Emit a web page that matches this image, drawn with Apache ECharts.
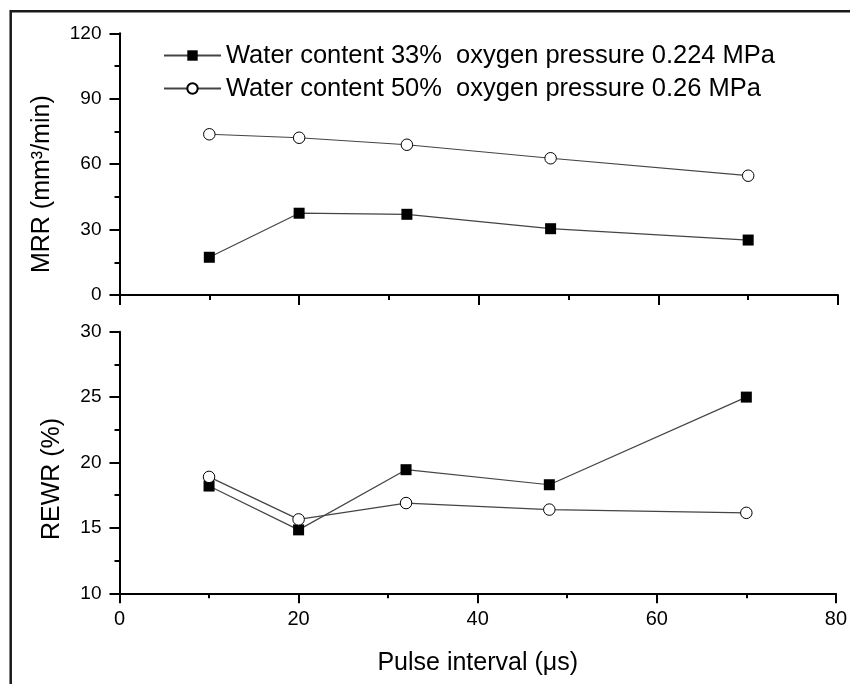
<!DOCTYPE html>
<html>
<head>
<meta charset="utf-8">
<script src="https://cdn.jsdelivr.net/npm/echarts@6/dist/echarts.min.js"></script>
<style>
  html, body { margin: 0; padding: 0; background: #fff; }
  #chart { width: 850px; height: 684px; }
</style>
</head>
<body>
<div id="chart"></div>
<script>
// Pulse interval (µs) on the shared x axis
const pulseInterval = [10, 20, 32, 48, 70];

// Material removal rate, mm³/min
const mrr33 = [17.3, 37.5, 37.0, 30.4, 25.2];
const mrr50 = [73.7, 72.1, 68.9, 62.7, 54.7];

// Relative electrode wear ratio, %
const rewr33 = [18.2, 14.85, 19.45, 18.3, 25.0];
const rewr50 = [18.9, 15.65, 16.9, 16.4, 16.15];

const seriesNames = [
  'Water content 33%  oxygen pressure 0.224 MPa',
  'Water content 50%  oxygen pressure 0.26 MPa'
];

const FONT = '"Liberation Sans", Arial, sans-serif';
const pairs = (ys) => pulseInterval.map((x, i) => [x, ys[i]]);

const axisLine = { show: true, lineStyle: { color: '#000', width: 2 } };
const axisTick = { show: true, inside: false, length: 10, lineStyle: { color: '#000', width: 2 } };
const minorTick = { show: true, splitNumber: 2, length: 5, lineStyle: { color: '#000', width: 2 } };

function xAxis(gridIndex, showLabels) {
  return {
    type: 'value', gridIndex, min: 0, max: 80, interval: 20,
    axisLine, axisTick, minorTick,
    splitLine: { show: false },
    axisLabel: { show: showLabels, color: '#000', fontFamily: FONT, fontSize: 20, margin: 16 },
    name: showLabels ? 'Pulse interval (μs)' : '',
    nameLocation: 'middle', nameGap: 57,
    nameTextStyle: { color: '#000', fontFamily: FONT, fontSize: 25 }
  };
}

function yAxis(gridIndex, min, max, interval, name, gap, shift) {
  return {
    type: 'value', gridIndex, min, max, interval,
    axisLine, axisTick, minorTick,
    splitLine: { show: false },
    axisLabel: { color: '#000', fontFamily: FONT, fontSize: 19, margin: 18 },
    name, nameLocation: 'middle', nameGap: gap,
    nameTextStyle: { color: '#000', fontFamily: FONT, fontSize: 25, padding: [0, shift, 0, 0] }
  };
}

const squareStyle = {
  type: 'line', symbol: 'rect', symbolSize: 11,
  itemStyle: { color: '#000', borderColor: '#000', borderWidth: 0 },
  lineStyle: { color: '#444', width: 1.2 },
  emphasis: { disabled: true }, animation: false, z: 3
};
const circleStyle = {
  type: 'line', symbol: 'circle', symbolSize: 11.5,
  itemStyle: { color: '#fff', borderColor: '#000', borderWidth: 1 },
  lineStyle: { color: '#444', width: 1.2 },
  emphasis: { disabled: true }, animation: false, z: 4
};

const option = {
  backgroundColor: '#fff',
  animation: false,
  grid: [
    { left: 119.5, right: 12, top: 33.3, height: 261.7 },
    { left: 119.5, right: 12, top: 331.7, height: 261.6 }
  ],
  xAxis: [xAxis(0, false), xAxis(1, true)],
  yAxis: [
    yAxis(0, 0, 120, 30, 'MRR (mm³/min)', 65, 40),
    yAxis(1, 10, 30, 5, 'REWR (%)', 54.5, 33)
  ],
  legend: {
    orient: 'vertical', left: 163, top: 42.5, padding: 0,
    itemWidth: 57, itemHeight: 13, itemGap: 7,
    data: seriesNames,
    selectedMode: false,
    textStyle: { color: '#000', fontFamily: FONT, fontSize: 25.5, lineHeight: 25 }
  },
  graphic: [{
    type: 'rect', silent: true, z: 100,
    shape: { x: 10.7, y: 11.3, width: 900, height: 800 },
    style: { fill: 'none', stroke: '#1a1a1a', lineWidth: 2.5 }
  }],
  series: [
    Object.assign({}, squareStyle, { name: seriesNames[0], xAxisIndex: 0, yAxisIndex: 0, data: pairs(mrr33) }),
    Object.assign({}, circleStyle, { name: seriesNames[1], xAxisIndex: 0, yAxisIndex: 0, data: pairs(mrr50) }),
    Object.assign({}, squareStyle, { name: seriesNames[0], xAxisIndex: 1, yAxisIndex: 1, data: pairs(rewr33) }),
    Object.assign({}, circleStyle, { name: seriesNames[1], xAxisIndex: 1, yAxisIndex: 1, data: pairs(rewr50) })
  ]
};

const chart = echarts.init(document.getElementById('chart'), null, { renderer: 'canvas' });
chart.setOption(option);
</script>
</body>
</html>
